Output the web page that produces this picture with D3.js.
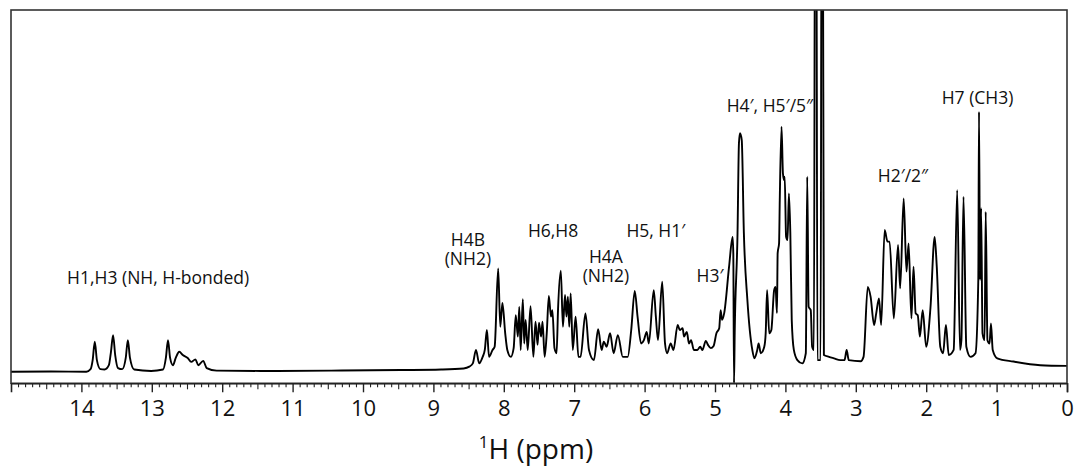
<!DOCTYPE html>
<html>
<head>
<meta charset="utf-8">
<script src="https://cdn.jsdelivr.net/npm/d3@7"></script>
<style>
  html, body { margin: 0; padding: 0; background: #fff; }
  svg { display: block; }
  text { font-family: "Open Sans", "Noto Sans", sans-serif; fill: #111; }
</style>
</head>
<body>
<svg id="chart" width="1075" height="467"></svg>
<script>
// 1H NMR spectrum, traced as [ppm, intensity] vertices, grouped by region.
const iminoRegion = [
  [15.0, 0.2], [14.43, 0.25], [13.93, 0.2], [13.87, 0.9], [13.84, 3.4], [13.81, 8.5],
  [13.78, 3.4], [13.73, 0.9], [13.67, 0.8], [13.61, 2.0], [13.58, 5.7], [13.55, 10.3],
  [13.52, 4.8], [13.48, 1.2], [13.42, 0.9], [13.37, 4.0], [13.34, 8.9], [13.31, 4.0],
  [13.25, 0.8], [13.01, 0.4], [12.84, 0.8], [12.80, 4.0], [12.77, 8.9], [12.74, 4.0],
  [12.70, 2.0], [12.66, 4.0], [12.61, 5.7], [12.56, 4.8], [12.49, 4.0], [12.44, 2.9],
  [12.38, 3.6], [12.34, 2.0], [12.27, 3.2], [12.22, 1.2], [12.08, 0.5]
];

const emptyRegion = [
  [11.45, 0.4], [10.45, 0.5], [9.46, 0.65], [8.89, 0.8], [8.57, 1.1], [8.49, 1.6], [8.44, 2.5]
];

const aromaticRegion = [
  [8.395, 6.2], [8.35, 2.5], [8.30, 4.3], [8.27, 6.2], [8.24, 11.7], [8.21, 4.3],
  [8.16, 6.2], [8.13, 7.1], [8.08, 28.7], [8.05, 12.6], [8.02, 19.2], [7.98, 10.8],
  [7.95, 6.2], [7.90, 4.3], [7.86, 6.7], [7.83, 15.8], [7.80, 9.9], [7.78, 18.1],
  [7.76, 6.2], [7.73, 20.2], [7.71, 8.0], [7.69, 14.5], [7.66, 6.2], [7.62, 18.3],
  [7.58, 4.3], [7.55, 14.0], [7.52, 7.6], [7.50, 13.7], [7.47, 9.9], [7.45, 14.0],
  [7.42, 4.3], [7.39, 10.8], [7.36, 21.1], [7.33, 15.4], [7.31, 17.2], [7.28, 6.7],
  [7.25, 5.3], [7.23, 17.2], [7.19, 28.1], [7.16, 12.6], [7.13, 21.4], [7.11, 15.4],
  [7.09, 20.9], [7.07, 12.6], [7.05, 21.8], [7.02, 6.2], [6.98, 15.4], [6.94, 4.3],
  [6.91, 4.3], [6.84, 16.3], [6.79, 6.2], [6.72, 3.4], [6.66, 11.9], [6.61, 6.2],
  [6.58, 8.5], [6.54, 7.1], [6.49, 10.8], [6.44, 5.3], [6.38, 10.3], [6.31, 4.3],
  [6.24, 4.3], [6.19, 11.7], [6.14, 22.5], [6.10, 15.4], [6.05, 8.0], [6.01, 8.9],
  [5.97, 11.2], [5.94, 8.0], [5.87, 22.7], [5.84, 15.4], [5.81, 8.9], [5.75, 25.0],
  [5.71, 8.0], [5.68, 5.3], [5.63, 8.0], [5.59, 6.2], [5.53, 13.1], [5.50, 11.7],
  [5.46, 12.2], [5.44, 9.9], [5.40, 11.2], [5.37, 8.0], [5.34, 8.9], [5.30, 6.2],
  [5.25, 6.2], [5.21, 7.1], [5.18, 6.2], [5.13, 8.7], [5.10, 7.6], [5.06, 6.7]
];

const sugarRegion = [
  [5.02, 7.3], [4.98, 10.8], [4.94, 12.2], [4.92, 17.2], [4.90, 14.5], [4.87, 16.3],
  [4.80, 29.2], [4.75, 37.4], [4.74, 32.9], [4.73, -3.0], [4.72, 10.9], [4.68, 38.5],
  [4.66, 63.2], [4.645, 66.0], [4.62, 64.1], [4.59, 38.5], [4.54, 20.0], [4.47, 6.2],
  [4.44, 3.9], [4.40, 6.2], [4.38, 8.0], [4.35, 5.3], [4.30, 7.1], [4.28, 10.8],
  [4.26, 22.7], [4.23, 10.8], [4.20, 11.7], [4.16, 22.7], [4.14, 23.6], [4.12, 16.4],
  [4.11, 32.9], [4.09, 35.6], [4.08, 47.6], [4.055, 67.8], [4.035, 54.9], [4.02, 53.1],
  [4.01, 54.0], [3.99, 37.4], [3.97, 36.5], [3.95, 49.4], [3.93, 38.4], [3.91, 14.5],
  [3.88, 6.2], [3.83, 3.4], [3.76, 2.5], [3.71, 5.3], [3.69, 54.0], [3.67, 18.1],
  [3.64, 17.2], [3.62, 7.1], [3.595, 6.2], [3.578, 150], [3.562, 150], [3.545, 3.4],
  [3.50, 3.4], [3.485, 150], [3.47, 150], [3.453, 4.8], [3.38, 4.3], [3.31, 3.9],
  [3.22, 3.4], [3.16, 3.4], [3.13, 6.2], [3.10, 3.4], [2.93, 3.1]
];

const aliphaticRegion = [
  [2.89, 4.3], [2.83, 23.6], [2.79, 20.9], [2.74, 13.1], [2.71, 16.3], [2.67, 20.4],
  [2.64, 13.1], [2.59, 39.3], [2.55, 36.1], [2.52, 36.1], [2.46, 14.9], [2.40, 35.2],
  [2.37, 23.2], [2.32, 48.0], [2.28, 27.8], [2.25, 35.6], [2.21, 14.9], [2.18, 29.2],
  [2.15, 16.3], [2.12, 15.8], [2.09, 9.9], [2.05, 17.2], [2.00, 7.1], [1.94, 17.7],
  [1.88, 37.4], [1.85, 29.2], [1.80, 7.1], [1.76, 5.3], [1.72, 13.1], [1.68, 4.8],
  [1.61, 6.2], [1.56, 50.3], [1.52, 6.2], [1.50, 8.9], [1.47, 48.5], [1.43, 7.1],
  [1.37, 4.3], [1.30, 5.3], [1.26, 25.5], [1.25, 71.9], [1.235, 25.5], [1.22, 45.3],
  [1.20, 10.8], [1.17, 8.9], [1.155, 44.3], [1.13, 8.9], [1.10, 8.0], [1.08, 13.5],
  [1.055, 6.2], [0.99, 3.9], [0.76, 3.0], [0.38, 2.0], [0.0, 1.8]
];

// Axis ticks (ppm)
const majorTicks = [14, 13, 12, 11, 10, 9, 8, 7, 6, 5, 4, 3, 2, 1, 0];

// Peak assignments: text lines anchored at [ppm, intensity]
const assignmentText = [
  ["H1,H3 (NH, H-bonded)"],
  ["H4B", "(NH2)"],
  ["H6,H8"],
  ["H4A", "(NH2)"],
  ["H5, H1\u2032"],
  ["H3\u2032"],
  ["H4\u2032, H5\u2032/5\u2033"],
  ["H2\u2032/2\u2033"],
  ["H7 (CH3)"]
];
const assignmentPpm = [12.91, 8.51, 7.30, 6.55, 5.84, 5.07, 4.22, 2.33, 1.27];
const assignmentLevel = [24.4, 29.6, 37.4, 24.9, 37.4, 24.9, 71.9, 52.5, 74.1];

const spectrum = [].concat(iminoRegion, emptyRegion, aromaticRegion, sugarRegion, aliphaticRegion);

const svg = d3.select("#chart");
const plot = { left: 11, right: 1067, top: 10, bottom: 383.3 };

const x = d3.scaleLinear().domain([15, 0]).range([plot.left, plot.right]);
const y = d3.scaleLinear().domain([-3, 100]).range([plot.bottom, plot.top]);

svg.append("defs").append("clipPath").attr("id", "plot-clip")
  .append("rect")
  .attr("x", plot.left).attr("y", plot.top)
  .attr("width", plot.right - plot.left).attr("height", plot.bottom - plot.top);

// spectrum trace
const line = d3.line()
  .x(d => x(d[0]))
  .y(d => y(d[1]))
  .curve(d3.curveMonotoneX);

svg.append("path")
  .datum(spectrum)
  .attr("clip-path", "url(#plot-clip)")
  .attr("fill", "none")
  .attr("stroke", "#000")
  .attr("stroke-width", 1.9)
  .attr("stroke-linejoin", "round")
  .attr("d", line);

// frame
svg.append("rect")
  .attr("x", plot.left).attr("y", plot.top)
  .attr("width", plot.right - plot.left).attr("height", plot.bottom - plot.top)
  .attr("fill", "none").attr("stroke", "#333").attr("stroke-width", 1.6);

// minor ticks every 0.1 ppm, half ticks at 0.5
const minorTicks = d3.range(1, 150).map(i => i / 10).filter(v => Math.round(v * 10) % 10 !== 0);
const minorAxis = d3.axisBottom(x).tickValues(minorTicks.filter(v => Math.round(v * 10) % 5 !== 0))
  .tickSize(4).tickFormat("");
const halfAxis = d3.axisBottom(x).tickValues(minorTicks.filter(v => Math.round(v * 10) % 5 === 0))
  .tickSize(6).tickFormat("");
const majorAxis = d3.axisBottom(x).tickValues(majorTicks).tickSize(9).tickPadding(8)
  .tickFormat(d3.format("d"));

[minorAxis, halfAxis].forEach(ax => {
  const g = svg.append("g").attr("transform", `translate(0,${plot.bottom})`).call(ax);
  g.select(".domain").remove();
  g.selectAll(".tick line").attr("stroke", "#222").attr("stroke-width", 1.1);
});
const gMajor = svg.append("g").attr("transform", `translate(0,${plot.bottom})`).call(majorAxis);
gMajor.select(".domain").attr("stroke", "#222").attr("stroke-width", 1.6);
gMajor.selectAll(".tick line").attr("stroke", "#222").attr("stroke-width", 1.4);
gMajor.selectAll(".tick text")
  .attr("font-size", 22)
  .attr("font-family", "'Open Sans', 'Noto Sans', sans-serif")
  .attr("fill", "#111");

// axis title
const title = svg.append("text")
  .attr("x", (plot.left + plot.right) / 2 - 3)
  .attr("y", 459)
  .attr("text-anchor", "middle")
  .attr("font-size", 28);
title.append("tspan").attr("font-size", 17).attr("dy", -11).text("1");
title.append("tspan").attr("dy", 11).text("H (ppm)");

// peak assignments
const lineStep = 19;
const labelGroup = svg.append("g").attr("font-size", 17.5).attr("text-anchor", "middle");
assignmentText.forEach((lines, i) => {
  const t = labelGroup.append("text")
    .attr("x", x(assignmentPpm[i]))
    .attr("y", y(assignmentLevel[i]) - (lines.length - 1) * lineStep);
  lines.forEach((s, j) => {
    t.append("tspan")
      .attr("x", x(assignmentPpm[i]))
      .attr("dy", j === 0 ? 0 : lineStep)
      .text(s);
  });
});
</script>
</body>
</html>
